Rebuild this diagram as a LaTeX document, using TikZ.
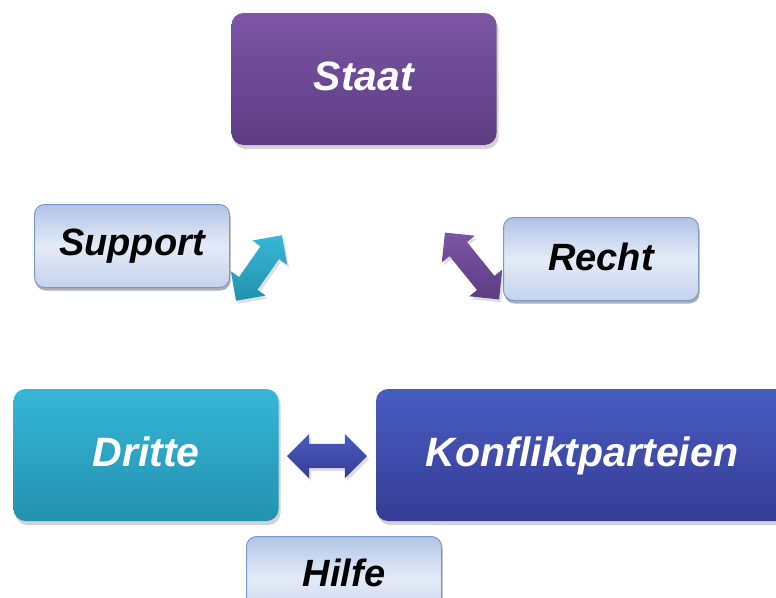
\documentclass[tikz,border=0pt]{standalone}
\usepackage{fontspec}
\setmainfont{Liberation Sans}
\usetikzlibrary{shapes.arrows,shadows}
\definecolor{staattop}{RGB}{124,86,165}
\definecolor{staatbot}{RGB}{92,60,130}
\definecolor{drittetop}{RGB}{55,182,216}
\definecolor{drittebot}{RGB}{34,146,174}
\definecolor{konflikttop}{RGB}{72,92,192}
\definecolor{konfliktbot}{RGB}{54,60,148}
\definecolor{labeltop}{RGB}{176,196,230}
\definecolor{labelmid}{RGB}{228,235,247}
\definecolor{labelbot}{RGB}{196,210,236}
\definecolor{labelline}{RGB}{122,152,204}
\begin{document}
\begin{tikzpicture}[x=1pt, y=1pt,
    bigbox/.style={rounded corners=12pt, minimum width=265pt, minimum height=132pt,
        text=white, font=\fontsize{41}{41}\selectfont\bfseries\itshape,
        text height=30pt, text depth=8pt,
        drop shadow={shadow xshift=2pt, shadow yshift=-4pt, opacity=0.35}},
    labelbox/.style={rounded corners=10pt, draw=labelline, line width=1pt,
        top color=labeltop, bottom color=labelbot, middle color=labelmid,
        minimum width=195pt, minimum height=83pt,
        font=\fontsize{38}{38}\selectfont\bfseries\itshape,
        drop shadow={shadow xshift=1pt, shadow yshift=-3pt, fill=gray!70, opacity=0.9}},
    twoway/.style={double arrow, inner sep=0pt, double arrow head extend=10pt,
        drop shadow={shadow xshift=2pt, shadow yshift=-3pt, opacity=0.25}}]
    \useasboundingbox (0,0) rectangle (776,-597);
    \clip (0,0) rectangle (776,-597);
    % main boxes
    \node[bigbox, top color=staattop, bottom color=staatbot] (staat) at (364,-79) {Staat};
    \node[bigbox, top color=drittetop, bottom color=drittebot] (dritte) at (146,-455) {Dritte};
    \node[bigbox, top color=konflikttop, bottom color=konfliktbot,
        minimum width=420pt] (konflikt) at (586,-455) {\hspace*{-8pt}Konfliktparteien};
    % labels
    \node[labelbox] (support) at (132,-246) {Support};
    \node[labelbox] (recht) at (601,-259) {\raisebox{5pt}{Recht}};
    \node[labelbox] (hilfe) at (344,-578) {\raisebox{10pt}{Hilfe}};
    % arrows
    \node[twoway, top color=drittetop, bottom color=drittebot,
        minimum height=80pt, rotate=55] (arrowsupport) at (259,-268) {\rule{0pt}{22pt}};
    \node[twoway, top color=staattop, bottom color=staatbot,
        minimum height=86pt, rotate=-51] (arrowrecht) at (472,-266) {\rule{0pt}{22pt}};
    \node[twoway, top color=konflikttop, bottom color=konfliktbot,
        minimum height=80pt] (arrowhilfe) at (327,-456) {\rule{0pt}{24pt}};
\end{tikzpicture}
\end{document}
